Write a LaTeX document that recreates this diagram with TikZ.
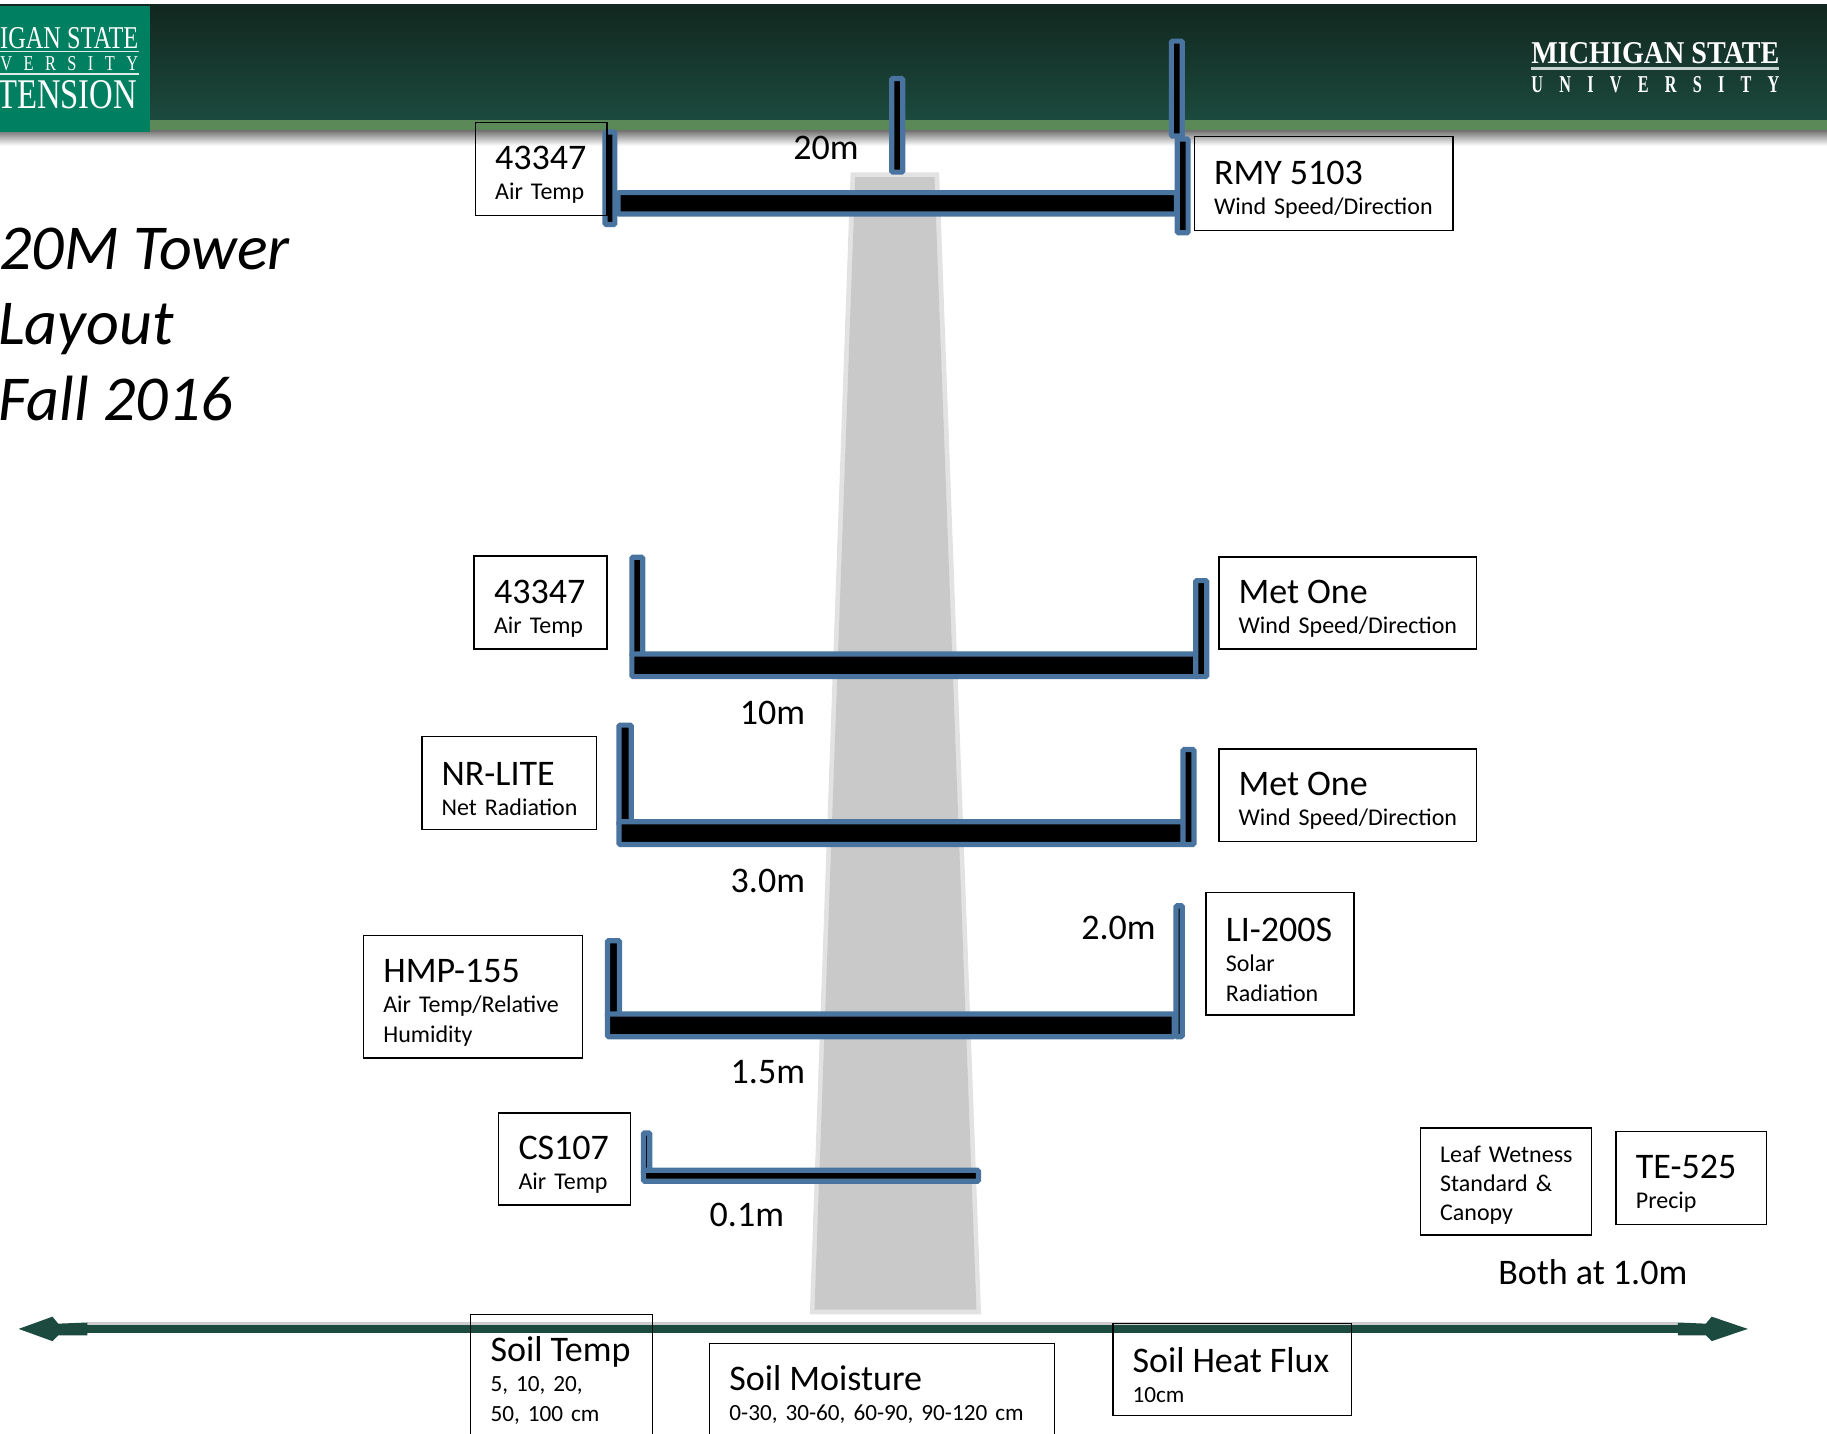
\documentclass[tikz,border=0pt]{standalone}
\usepackage{fontspec}
\setmainfont{Carlito}
\newfontfamily\logofont{Liberation Serif}
\definecolor{boomblue}{HTML}{4A74A0}
\definecolor{hdtop}{HTML}{11271F}
\definecolor{hdbot}{HTML}{1C4A3E}
\definecolor{hdband}{HTML}{5B8A58}
\definecolor{logogreen}{HTML}{008060}
\definecolor{towerin}{HTML}{C9C9C9}
\definecolor{towerout}{HTML}{E2E2E2}
\definecolor{groundc}{HTML}{1C4A3E}
\newcommand{\ttl}[1]{\mbox{\fontsize{18}{15}\selectfont\rule{0pt}{17.6pt}#1}}
\newcommand{\sbt}[1]{\mbox{\fontsize{12}{15}\selectfont #1}}
\newcommand{\sbn}[1]{\mbox{\fontsize{11.6}{15}\selectfont #1}}
\newcommand{\labl}[1]{{\fontsize{18}{22}\selectfont #1}}
\newcommand{\boom}[4]{\draw[boomstyle] (#1+2.3,#2+2.3) rectangle (#3-2.3,#4-2.3);}
\newcommand{\sensor}[6]{%
  \pgfmathsetmacro{\mycx}{(#2+#4)/2}\pgfmathsetmacro{\mycy}{(#3+#5)/2}%
  \pgfmathsetmacro{\mywd}{(#4-#2)*0.5826}\pgfmathsetmacro{\myht}{(#5-#3)*0.5826}%
  \pgfmathsetmacro{\mytw}{(#4-#2)*0.5826-19.8}%
  \node[sensorbox,minimum width=\mywd pt,minimum height=\myht pt,text width=\mytw pt] (#1) at (\mycx,\mycy) {#6};}
\tikzset{
  boomstyle/.style={draw=boomblue,fill=black,line width=2.6pt,rounded corners=0.6pt},
  sensorbox/.style={draw=black,line width=0.75pt,inner xsep=9.9pt,inner ysep=0pt,align=left,anchor=center,font={\fontsize{12}{15}\selectfont}},
  valuelabel/.style={inner sep=0pt,anchor=center},
  titleline/.style={inner sep=0pt,anchor=base west,font={\fontsize{32}{32}\selectfont\itshape}},
  logotext/.style={inner sep=0pt,text=white,font=\logofont},
}
\begin{document}
\begin{tikzpicture}[x=0.5826pt,y=-0.5826pt]
\useasboundingbox (0,0) rectangle (1568,1230);
\clip (0,0) rectangle (1568,1230);
% header
\shade[top color=hdtop,bottom color=hdbot] (0,4) rectangle (1568,103);
\fill[hdband] (0,103) rectangle (1568,112);
\shade[top color=black!55,bottom color=white] (0,112) rectangle (1568,125);
% logo left
\fill[logogreen] (0,5) rectangle (129,113);
\node[logotext,anchor=south east] (logoa) at (119,42) {\resizebox{69pt}{10.5pt}{IGAN STATE}};
\fill[white!85!logogreen] (0,43.8) rectangle (119,45);
\node[logotext,anchor=south east] (logob) at (119,61) {\resizebox{69pt}{7pt}{V\hspace{.7em}E\hspace{.7em}R\hspace{.7em}S\hspace{.7em}I\hspace{.7em}T\hspace{.7em}Y}};
\fill[white!85!logogreen] (0,63) rectangle (119,64.2);
\node[logotext,anchor=south east] (logoc) at (118,94) {\resizebox{70pt}{14pt}{TENSION}};
% logo right
\node[logotext,anchor=south west] (msua) at (1314,55) {\resizebox{124pt}{10.5pt}{\bfseries MICHIGAN STATE}};
\fill[white!75!hdbot] (1314,57.5) rectangle (1527,60);
\node[logotext,anchor=south west] (msub) at (1314,80) {\resizebox{124pt}{8pt}{\bfseries U\hspace{1em}N\hspace{1em}I\hspace{1em}V\hspace{1em}E\hspace{1em}R\hspace{1em}S\hspace{1em}I\hspace{1em}T\hspace{1em}Y}};
% tower
\fill[towerout] (730,148) -- (806,148) -- (842,1128) -- (695,1128) -- cycle;
\fill[towerin] (734,152) -- (802,152) -- (838,1124) -- (699,1124) -- cycle;
% ground
\coordinate (gl) at (75,1140.5);
\coordinate (gr) at (1440,1140.5);
\fill[black!20] (75,1135) rectangle (1440,1137);
\draw[groundc,line width=4pt] (gl) -- (gr);
\fill[groundc] (16,1140.5) -- (45,1130) -- (50,1136) -- (75,1135) -- (75,1146) -- (50,1146) -- (45,1151) -- cycle;
\fill[groundc] (1500,1140.5) -- (1469,1130) -- (1464,1136) -- (1440,1135) -- (1440,1146) -- (1464,1146) -- (1469,1151) -- cycle;
% booms top
\boom{763}{65}{777}{150}
\boom{1003}{33}{1017}{119}
\boom{528}{163}{1012}{186}
\boom{517}{111}{530}{195}
\boom{1008}{117}{1022}{202}
% 10 m
\boom{540}{476}{554}{565}
\boom{540}{559}{1030}{583}
\boom{1024}{496}{1038}{583}
% 3 m
\boom{529}{620}{544}{710}
\boom{529}{703}{1018}{727}
\boom{1013}{641}{1027}{727}
% 1.5 m
\boom{519}{805}{534}{875}
\boom{519}{868}{1010}{892}
\boom{1007}{775}{1017}{892}
% 0.1 m
\boom{550}{970}{560}{1010}
\boom{550}{1002}{842}{1016}
% title
\node[titleline] (tt1) at (-1,231) {20M Tower};
\node[titleline] (tt2) at (-2,296) {Layout};
\node[titleline] (tt3) at (-2,361) {Fall 2016};
% sensors
\sensor{s1}{408}{105}{521}{185}{\ttl{43347}\\\sbt{Air Temp}}
\sensor{s2}{1025}{117}{1247}{198}{\ttl{RMY 5103}\\\sbt{Wind Speed/Direction}}
\sensor{s3}{407}{477}{521}{557}{\ttl{43347}\\\sbt{Air Temp}}
\sensor{s4}{1046}{478}{1267}{557}{\ttl{Met One}\\\sbt{Wind Speed/Direction}}
\sensor{s5}{362}{632}{512}{712}{\ttl{NR-LITE}\\\sbt{Net Radiation}}
\sensor{s6}{1046}{643}{1267}{722}{\ttl{Met One}\\\sbt{Wind Speed/Direction}}
\sensor{s7}{312}{803}{500}{908}{\ttl{HMP-155}\\\sbt{Air Temp/Relative}\\\sbt{Humidity}}
\sensor{s8}{1035}{766}{1162}{871}{\ttl{LI-200S}\\\sbt{Solar}\\\sbt{Radiation}}
\sensor{s9}{428}{955}{541}{1034}{\ttl{CS107}\\\sbt{Air Temp}}
\sensor{s10}{1219}{968}{1366}{1060}{\sbt{\rule{0pt}{12pt}Leaf Wetness}\\[-0.5pt]\sbt{Standard \&}\\[-0.5pt]\sbt{Canopy}}
\sensor{s11}{1387}{971}{1516}{1051}{\ttl{TE-525}\\\sbt{Precip}}
\sensor{s12}{404}{1128}{560}{1233}{\ttl{Soil Temp}\\\sbn{5, 10, 20,}\\\sbn{50, 100 cm}}
\sensor{s13}{609}{1153}{905}{1232}{\ttl{Soil Moisture}\\\sbn{0-30, 30-60, 60-90, 90-120 cm}}
\sensor{s14}{955}{1136}{1160}{1215}{\ttl{Soil Heat Flux}\\\sbn{10cm}}
% heights
\node[valuelabel] (h20) at (709,127) {\labl{20m}};
\node[valuelabel] (h10) at (663,612) {\labl{10m}};
\node[valuelabel] (h3) at (659,756) {\labl{3.0m}};
\node[valuelabel] (h2) at (960,796) {\labl{2.0m}};
\node[valuelabel] (h15) at (659,920) {\labl{1.5m}};
\node[valuelabel] (h01) at (641,1043) {\labl{0.1m}};
\node[valuelabel] (both) at (1367,1092) {\labl{Both at 1.0m}};
\end{tikzpicture}
\end{document}
